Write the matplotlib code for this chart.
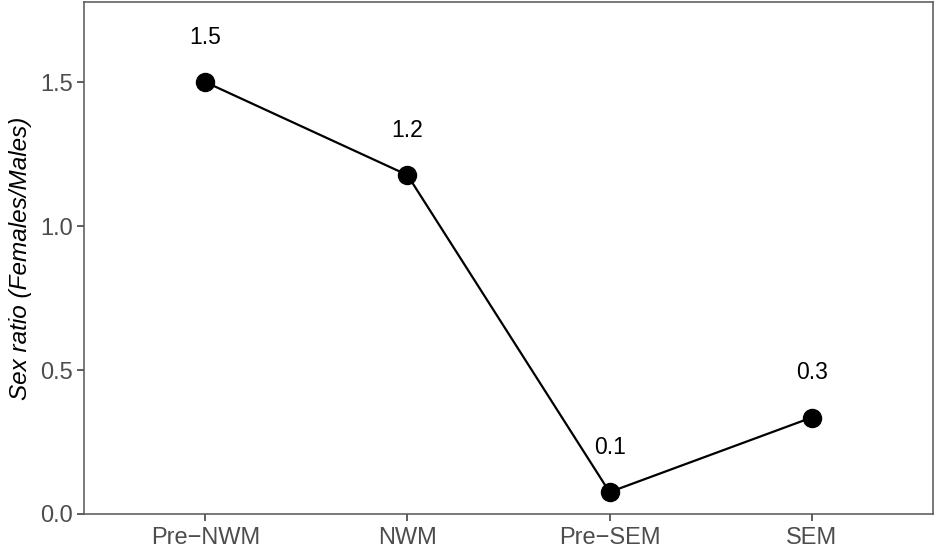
import matplotlib
matplotlib.use("Agg")
import matplotlib.pyplot as plt

plt.rcParams['font.family'] = ['Liberation Sans', 'DejaVu Sans']

# Данные
periods = ['Pre\u2212NWM', 'NWM', 'Pre\u2212SEM', 'SEM']
sex_ratio = [1.50, 1.177, 0.076, 0.335]
labels = ['1.5', '1.2', '0.1', '0.3']

fig = plt.figure(figsize=(9.34, 5.54), dpi=100)
ax = fig.add_axes([84 / 934, 40 / 554, 849 / 934, 512 / 554])

x = list(range(1, len(periods) + 1))
ax.plot(x, sex_ratio, color='black', linewidth=1.6, zorder=2)
ax.plot(x, sex_ratio, 'o', color='black', markersize=13, zorder=3)

# подписи над точками
for xi, yi, lab in zip(x, sex_ratio, labels):
    ax.text(xi, yi + 0.155, lab, ha='center', va='center', fontsize=16.5, color='black')

ax.set_xlim(0.4, 4.6)
ax.set_ylim(0, 1.778)
ax.set_xticks(x)
ax.set_xticklabels(periods)
ax.set_yticks([0, 0.5, 1.0, 1.5])
ax.set_yticklabels(['0.0', '0.5', '1.0', '1.5'])

for s in ax.spines.values():
    s.set_color('#555555')
    s.set_linewidth(1.1)

ax.tick_params(axis='both', length=5, width=1.1, color='#333333',
               labelcolor='#4D4D4D', labelsize=17, pad=3)
ax.tick_params(axis='x', pad=4)
ax.set_ylabel('Sex ratio (Females/Males)', fontsize=17.5, style='italic', labelpad=6)

fig.savefig('out.png', dpi=100)
